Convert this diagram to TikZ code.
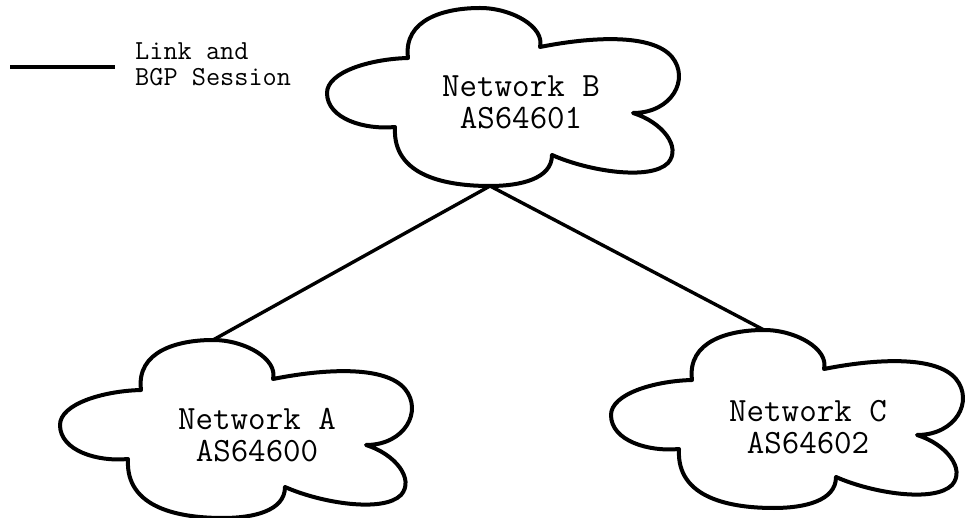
\documentclass[tikz,border=0pt]{standalone}
\def\mycloudpath{(-105,30) .. controls (-135,33) and (-173,22) .. (-173,-4)
 .. controls (-173,-25) and (-130,-38) .. (-92,-39)
 .. controls (-97,-78) and (-55,-89) .. (-20,-89)
 .. controls (12,-89) and (45,-70) .. (40,-50)
 .. controls (90,-60) and (152,-64) .. (172,-40)
 .. controls (190,-18) and (172,16) .. (133,16)
 .. controls (162,25) and (182,50) .. (168,66)
 .. controls (150,84) and (88,74) .. (52,58)
 .. controls (52,82) and (20,89) .. (-10,89)
 .. controls (-52,89) and (-108,80) .. (-105,30) -- cycle}
\tikzset{
 cloudline/.style={line width=4pt, line join=round},
 link/.style={line width=3.4pt},
 cloudtext/.style={font=\ttfamily\fontsize{34}{32}\selectfont, align=center, inner sep=0pt},
 legendtext/.style={font=\ttfamily\fontsize{27.5}{26}\selectfont, align=left, inner sep=0pt}
}
\begin{document}
\begin{tikzpicture}[x=1pt,y=-1pt]
\useasboundingbox (0,0) rectangle (967,518);
% Network B
\begin{scope}[shift={(500,97)}]
 \draw[cloudline] \mycloudpath;
 \coordinate (Bt) at (-20,-89);
 \coordinate (Bb) at (-10,89);
 \node[cloudtext] (Btext) at (21,5) {Network B\\AS64601};
\end{scope}
% Network A
\begin{scope}[shift={(233,429)}]
 \draw[cloudline] \mycloudpath;
 \coordinate (At) at (-20,-89);
 \node[cloudtext] (Atext) at (24,6) {Network A\\AS64600};
\end{scope}
% Network C
\begin{scope}[shift={(784,419)}]
 \draw[cloudline] \mycloudpath;
 \coordinate (Ct) at (-20,-89);
 \node[cloudtext] (Ctext) at (24,8) {Network C\\AS64602};
\end{scope}
\draw[link] (Bb) -- (At);
\draw[link] (Bb) -- (Ct);
% legend
\coordinate (L1) at (10,67);
\coordinate (L2) at (115,67);
\draw[cloudline] (L1) -- (L2);
\node[legendtext, anchor=west] (legend) at (135,64) {Link and\\BGP Session};
\end{tikzpicture}
\end{document}
